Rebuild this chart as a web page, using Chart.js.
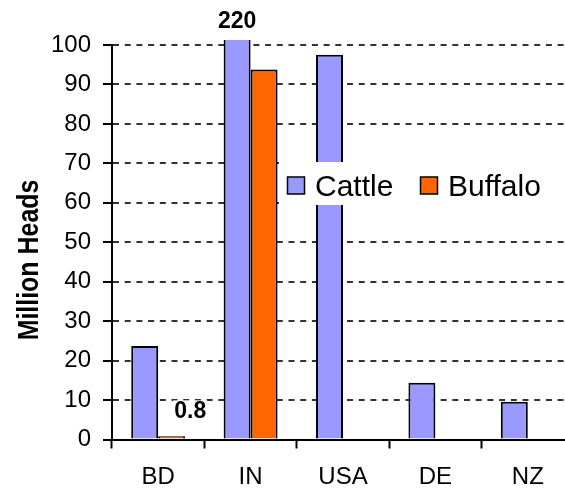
<!DOCTYPE html>
<html><head><meta charset="utf-8">
<script src="https://cdn.jsdelivr.net/npm/chart.js@4.4.1/dist/chart.umd.min.js"></script>
<style>
html,body{margin:0;padding:0;background:#fff;overflow:hidden;width:565px;height:491px}
canvas{display:block}
</style></head>
<body><canvas id="c" width="574" height="491"></canvas>
<script>
const categories = ['BD', 'IN', 'USA', 'DE', 'NZ'];
const cattle = [23.7, 220, 97.5, 14.4, 9.6];
const buffalo = [0.8, 93.8, null, null, null];
const seriesNames = ['Cattle', 'Buffalo'];
const seriesColors = ['#9999FF', '#FF6600'];
const yTickValues = [0, 10, 20, 30, 40, 50, 60, 70, 80, 90, 100];
const yTitle = 'Million Heads';

const FONT = '"Liberation Sans", Arial, sans-serif';

const overlay = {
  id: 'overlay',
  afterDatasetsDraw(chart) {
    const ctx = chart.ctx, ca = chart.chartArea;
    ctx.save();
    // data labels
    ctx.font = 'bold 23px ' + FONT;
    ctx.textAlign = 'center';
    ctx.textBaseline = 'middle';
    ctx.fillStyle = '#000';
    const inBar = chart.getDatasetMeta(0).data[1];
    ctx.fillText(String(cattle[1]), inBar.x, ca.top - 23);
    const bdBuf = chart.getDatasetMeta(1).data[0];
    const t = String(buffalo[0]);
    const w = ctx.measureText(t).width;
    const lx = bdBuf.x + 18.5, ly = bdBuf.y - 25;
    ctx.fillStyle = '#fff';
    ctx.fillRect(lx - w / 2 - 1, ly - 11, w + 2, 22);
    ctx.fillStyle = '#000';
    ctx.fillText(t, lx, ly);

    // legend
    ctx.fillStyle = '#fff';
    ctx.fillRect(279, 162, chart.width - 279, 43);
    ctx.font = '30px ' + FONT;
    ctx.textAlign = 'left';
    ctx.textBaseline = 'alphabetic';
    const items = [{bx: 287.5, tx: 315}, {bx: 420.5, tx: 448}];
    chart.data.datasets.forEach((ds, i) => {
      const it = items[i];
      ctx.fillStyle = ds.backgroundColor;
      ctx.fillRect(it.bx, 177, 17, 17);
      ctx.lineWidth = 1.5;
      ctx.strokeStyle = '#000';
      ctx.strokeRect(it.bx, 177, 17, 17);
      ctx.fillStyle = '#000';
      ctx.fillText(ds.label, it.tx, 196);
    });

    // y axis title
    ctx.translate(38, 260);
    ctx.rotate(-Math.PI / 2);
    ctx.scale(0.86, 1);
    ctx.font = 'bold 29px ' + FONT;
    ctx.textAlign = 'center';
    ctx.textBaseline = 'alphabetic';
    ctx.fillStyle = '#000';
    ctx.fillText(yTitle, 0, 0);
    ctx.restore();
  }
};

new Chart(document.getElementById('c'), {
  type: 'bar',
  data: {
    labels: categories,
    datasets: [
      { label: seriesNames[0], data: cattle, backgroundColor: seriesColors[0],
        borderColor: '#000', borderWidth: 2,
        clip: {left: false, right: false, bottom: false, top: 5} },
      { label: seriesNames[1], data: buffalo, backgroundColor: seriesColors[1],
        borderColor: '#000', borderWidth: 2,
        clip: {left: false, right: false, bottom: false, top: 5} }
    ]
  },
  options: {
    responsive: false,
    animation: false,
    devicePixelRatio: 1,
    layout: { padding: { left: 0, top: 45, right: 0, bottom: 0 } },
    datasets: { bar: { categoryPercentage: 0.584, barPercentage: 1 } },
    plugins: { legend: { display: false }, tooltip: { enabled: false } },
    scales: {
      x: {
        grid: { drawOnChartArea: false, drawTicks: true, tickLength: 9, tickColor: '#000', tickWidth: 2, offset: true },
        border: { display: true, color: '#000', width: 2 },
        ticks: { color: '#000', font: { family: FONT, size: 24 }, padding: 14, maxRotation: 0 },
        afterFit: s => { s.height = 51.5; }
      },
      y: {
        min: 0, max: 100,
        afterBuildTicks: s => { s.ticks = yTickValues.map(v => ({ value: v })); },
        grid: { color: '#333', lineWidth: 2, tickLength: 9, tickColor: '#000', tickWidth: 2 },
        border: { display: true, color: '#000', width: 2, dash: [6, 5.7] },
        ticks: { color: '#000', font: { family: FONT, size: 24 }, padding: 12 },
        afterFit: s => { s.width = 112; }
      }
    }
  },
  plugins: [overlay]
});
</script>
</body></html>
